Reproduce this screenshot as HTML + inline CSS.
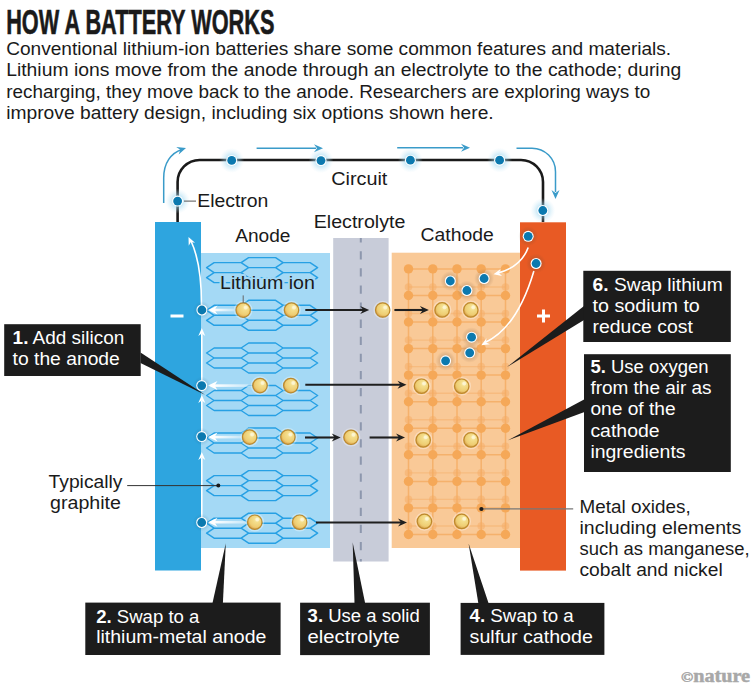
<!DOCTYPE html>
<html><head><meta charset="utf-8"><title>How a battery works</title>
<style>
html,body{margin:0;padding:0;background:#ffffff;width:751px;height:692px;overflow:hidden}
svg{display:block}
text{font-family:"Liberation Sans", sans-serif}
</style></head><body>
<svg width="751" height="692" viewBox="0 0 751 692">
<rect width="751" height="692" fill="#ffffff"/>
<text x="6.2" y="33.5" font-size="35.5" fill="#1a1a1a" font-weight="bold" text-anchor="start" textLength="268.2" lengthAdjust="spacingAndGlyphs" stroke="#1a1a1a" stroke-width="0.6">HOW A BATTERY WORKS</text>
<text x="6.2" y="54.6" font-size="17.5" fill="#1a1a1a" font-weight="normal" text-anchor="start" textLength="665.0" lengthAdjust="spacingAndGlyphs" >Conventional lithium-ion batteries share some common features and materials.</text>
<text x="6.2" y="76.3" font-size="17.5" fill="#1a1a1a" font-weight="normal" text-anchor="start" textLength="675.0" lengthAdjust="spacingAndGlyphs" >Lithium ions move from the anode through an electrolyte to the cathode; during</text>
<text x="6.2" y="97.8" font-size="17.5" fill="#1a1a1a" font-weight="normal" text-anchor="start" textLength="644.0" lengthAdjust="spacingAndGlyphs" >recharging, they move back to the anode. Researchers are exploring ways to</text>
<text x="6.2" y="119.4" font-size="17.5" fill="#1a1a1a" font-weight="normal" text-anchor="start" textLength="487.5" lengthAdjust="spacingAndGlyphs" >improve battery design, including six options shown here.</text>
<defs>
<radialGradient id="glow" cx="50%" cy="50%" r="50%">
 <stop offset="0" stop-color="#6cc3ea" stop-opacity="0.9"/>
 <stop offset="0.45" stop-color="#98d4ef" stop-opacity="0.5"/>
 <stop offset="1" stop-color="#c8e8f6" stop-opacity="0"/>
</radialGradient>
<radialGradient id="bglow" cx="50%" cy="50%" r="50%">
 <stop offset="0" stop-color="#1b5f86" stop-opacity="0.35"/>
 <stop offset="1" stop-color="#1b5f86" stop-opacity="0"/>
</radialGradient>
<radialGradient id="dglow" cx="50%" cy="50%" r="50%">
 <stop offset="0" stop-color="#6a4a30" stop-opacity="0.45"/>
 <stop offset="1" stop-color="#6a4a30" stop-opacity="0"/>
</radialGradient>
<radialGradient id="ball" cx="58%" cy="40%" r="62%" fx="66%" fy="30%">
 <stop offset="0" stop-color="#fbf0c0"/>
 <stop offset="0.3" stop-color="#f4de8c"/>
 <stop offset="0.75" stop-color="#eecd72"/>
 <stop offset="1" stop-color="#d79c48"/>
</radialGradient>
<linearGradient id="wfade" x1="0" y1="0" x2="1" y2="0">
 <stop offset="0" stop-color="#fff" stop-opacity="1"/>
 <stop offset="1" stop-color="#fff" stop-opacity="0.35"/>
</linearGradient>
<marker id="ab" viewBox="0 0 10 10" refX="9" refY="5" markerWidth="4.2" markerHeight="4.2" orient="auto" markerUnits="strokeWidth">
 <path d="M0,0 L10,5 L0,10 L3,5 Z" fill="#3a9bc9"/>
</marker>
</defs>
<path d="M177.6,222 V182 A22,22 0 0 1 199.6,160 H521 A22,22 0 0 1 543,182 V222" fill="none" stroke="#1a1a1a" stroke-width="2.6"/>
<path d="M163.7,203 V178 C163.7,163 171,153 182,149.5" fill="none" stroke="#3a9bc9" stroke-width="1.5"/>
<path d="M0,0 L-9,-4.0 L-6,0 L-9,4.0 Z" fill="#3a9bc9" transform="translate(186,148) rotate(-18)"/>
<path d="M256.6,148.2 H316" fill="none" stroke="#3a9bc9" stroke-width="1.5"/>
<path d="M0,0 L-9,-4.0 L-6,0 L-9,4.0 Z" fill="#3a9bc9" transform="translate(323,148.2) rotate(0)"/>
<path d="M397.2,147.7 H463" fill="none" stroke="#3a9bc9" stroke-width="1.5"/>
<path d="M0,0 L-9,-4.0 L-6,0 L-9,4.0 Z" fill="#3a9bc9" transform="translate(470,147.7) rotate(0)"/>
<path d="M516.5,148.2 H532 A23.5,23.5 0 0 1 555.5,171.7 V192" fill="none" stroke="#3a9bc9" stroke-width="1.5"/>
<path d="M0,0 L-9,-4.0 L-6,0 L-9,4.0 Z" fill="#3a9bc9" transform="translate(555.5,199) rotate(90)"/>
<circle cx="231.7" cy="160.4" r="12.5" fill="url(#glow)"/>
<circle cx="231.7" cy="160.4" r="5.5" fill="#ffffff"/>
<circle cx="231.7" cy="160.4" r="4.4" fill="#0b79af"/>
<circle cx="321" cy="160.6" r="12.5" fill="url(#glow)"/>
<circle cx="321" cy="160.6" r="5.5" fill="#ffffff"/>
<circle cx="321" cy="160.6" r="4.4" fill="#0b79af"/>
<circle cx="410.4" cy="160.2" r="12.5" fill="url(#glow)"/>
<circle cx="410.4" cy="160.2" r="5.5" fill="#ffffff"/>
<circle cx="410.4" cy="160.2" r="4.4" fill="#0b79af"/>
<circle cx="499.6" cy="160.2" r="12.5" fill="url(#glow)"/>
<circle cx="499.6" cy="160.2" r="5.5" fill="#ffffff"/>
<circle cx="499.6" cy="160.2" r="4.4" fill="#0b79af"/>
<circle cx="177.6" cy="201.1" r="12.5" fill="url(#glow)"/>
<circle cx="177.6" cy="201.1" r="5.5" fill="#ffffff"/>
<circle cx="177.6" cy="201.1" r="4.4" fill="#0b79af"/>
<circle cx="542.8" cy="210.5" r="12.5" fill="url(#glow)"/>
<circle cx="542.8" cy="210.5" r="5.5" fill="#ffffff"/>
<circle cx="542.8" cy="210.5" r="4.4" fill="#0b79af"/>
<line x1="184" y1="201.1" x2="196" y2="201.1" stroke="#555" stroke-width="1"/>
<text x="197.2" y="207.3" font-size="17.5" fill="#1a1a1a" font-weight="normal" text-anchor="start" textLength="71.2" lengthAdjust="spacingAndGlyphs" >Electron</text>
<text x="331.2" y="184.5" font-size="17.5" fill="#1a1a1a" font-weight="normal" text-anchor="start" textLength="56.2" lengthAdjust="spacingAndGlyphs" >Circuit</text>
<rect x="155" y="222" width="46" height="348.5" fill="#2ea5df"/>
<rect x="201" y="253" width="129" height="295" fill="#a4d9f5"/>
<rect x="333.2" y="238" width="55.4" height="323.5" fill="#c8ccd9"/>
<rect x="391.7" y="252.7" width="128.3" height="295.3" fill="#f9c997"/>
<rect x="520" y="222.3" width="46" height="348.3" fill="#e85a24"/>
<text x="235.2" y="242.3" font-size="17.5" fill="#1a1a1a" font-weight="normal" text-anchor="start" textLength="55.2" lengthAdjust="spacingAndGlyphs" >Anode</text>
<text x="313.7" y="228.4" font-size="17.5" fill="#1a1a1a" font-weight="normal" text-anchor="start" textLength="91.7" lengthAdjust="spacingAndGlyphs" >Electrolyte</text>
<text x="420.5" y="241.4" font-size="17.5" fill="#1a1a1a" font-weight="normal" text-anchor="start" textLength="73.2" lengthAdjust="spacingAndGlyphs" >Cathode</text>
<rect x="170.5" y="314.5" width="13" height="3" fill="#fff"/>
<rect x="537" y="314.5" width="13" height="3" fill="#fff"/>
<rect x="542" y="309.5" width="3" height="13" fill="#fff"/>
<line x1="360.8" y1="238" x2="360.8" y2="561.5" stroke="#8d97ad" stroke-width="2" stroke-dasharray="8.3 8.8" stroke-dashoffset="3.9"/>
<path d="M241.1,262.6 L248.6,257.6 L275.6,257.6 L283.1,262.6 L275.6,267.6 L248.6,267.6 Z M241.1,272.6 L248.6,267.6 L275.6,267.6 L283.1,272.6 L275.6,277.6 L248.6,277.6 Z M241.1,282.6 L248.6,277.6 L275.6,277.6 L283.1,282.6 L275.6,287.6 L248.6,287.6 Z M206.6,267.6 L214.1,262.6 L241.1,262.6 L248.6,267.6 L241.1,272.6 L214.1,272.6 Z M275.6,267.6 L283.1,262.6 L310.1,262.6 L317.6,267.6 L310.1,272.6 L283.1,272.6 Z M206.6,277.6 L214.1,272.6 L241.1,272.6 L248.6,277.6 L241.1,282.6 L214.1,282.6 Z M275.6,277.6 L283.1,272.6 L310.1,272.6 L317.6,277.6 L310.1,282.6 L283.1,282.6 Z M241.1,305.3 L248.6,300.3 L275.6,300.3 L283.1,305.3 L275.6,310.3 L248.6,310.3 Z M241.1,315.3 L248.6,310.3 L275.6,310.3 L283.1,315.3 L275.6,320.3 L248.6,320.3 Z M241.1,325.3 L248.6,320.3 L275.6,320.3 L283.1,325.3 L275.6,330.3 L248.6,330.3 Z M206.6,310.3 L214.1,305.3 L241.1,305.3 L248.6,310.3 L241.1,315.3 L214.1,315.3 Z M275.6,310.3 L283.1,305.3 L310.1,305.3 L317.6,310.3 L310.1,315.3 L283.1,315.3 Z M206.6,320.3 L214.1,315.3 L241.1,315.3 L248.6,320.3 L241.1,325.3 L214.1,325.3 Z M275.6,320.3 L283.1,315.3 L310.1,315.3 L317.6,320.3 L310.1,325.3 L283.1,325.3 Z M241.1,348.0 L248.6,343.0 L275.6,343.0 L283.1,348.0 L275.6,353.0 L248.6,353.0 Z M241.1,358.0 L248.6,353.0 L275.6,353.0 L283.1,358.0 L275.6,363.0 L248.6,363.0 Z M241.1,368.0 L248.6,363.0 L275.6,363.0 L283.1,368.0 L275.6,373.0 L248.6,373.0 Z M206.6,353.0 L214.1,348.0 L241.1,348.0 L248.6,353.0 L241.1,358.0 L214.1,358.0 Z M275.6,353.0 L283.1,348.0 L310.1,348.0 L317.6,353.0 L310.1,358.0 L283.1,358.0 Z M206.6,363.0 L214.1,358.0 L241.1,358.0 L248.6,363.0 L241.1,368.0 L214.1,368.0 Z M275.6,363.0 L283.1,358.0 L310.1,358.0 L317.6,363.0 L310.1,368.0 L283.1,368.0 Z M241.1,390.5 L248.6,385.5 L275.6,385.5 L283.1,390.5 L275.6,395.5 L248.6,395.5 Z M241.1,400.5 L248.6,395.5 L275.6,395.5 L283.1,400.5 L275.6,405.5 L248.6,405.5 Z M241.1,410.5 L248.6,405.5 L275.6,405.5 L283.1,410.5 L275.6,415.5 L248.6,415.5 Z M206.6,395.5 L214.1,390.5 L241.1,390.5 L248.6,395.5 L241.1,400.5 L214.1,400.5 Z M275.6,395.5 L283.1,390.5 L310.1,390.5 L317.6,395.5 L310.1,400.5 L283.1,400.5 Z M206.6,405.5 L214.1,400.5 L241.1,400.5 L248.6,405.5 L241.1,410.5 L214.1,410.5 Z M275.6,405.5 L283.1,400.5 L310.1,400.5 L317.6,405.5 L310.1,410.5 L283.1,410.5 Z M241.1,433.0 L248.6,428.0 L275.6,428.0 L283.1,433.0 L275.6,438.0 L248.6,438.0 Z M241.1,443.0 L248.6,438.0 L275.6,438.0 L283.1,443.0 L275.6,448.0 L248.6,448.0 Z M241.1,453.0 L248.6,448.0 L275.6,448.0 L283.1,453.0 L275.6,458.0 L248.6,458.0 Z M206.6,438.0 L214.1,433.0 L241.1,433.0 L248.6,438.0 L241.1,443.0 L214.1,443.0 Z M275.6,438.0 L283.1,433.0 L310.1,433.0 L317.6,438.0 L310.1,443.0 L283.1,443.0 Z M206.6,448.0 L214.1,443.0 L241.1,443.0 L248.6,448.0 L241.1,453.0 L214.1,453.0 Z M275.6,448.0 L283.1,443.0 L310.1,443.0 L317.6,448.0 L310.1,453.0 L283.1,453.0 Z M241.1,475.6 L248.6,470.6 L275.6,470.6 L283.1,475.6 L275.6,480.6 L248.6,480.6 Z M241.1,485.6 L248.6,480.6 L275.6,480.6 L283.1,485.6 L275.6,490.6 L248.6,490.6 Z M241.1,495.6 L248.6,490.6 L275.6,490.6 L283.1,495.6 L275.6,500.6 L248.6,500.6 Z M206.6,480.6 L214.1,475.6 L241.1,475.6 L248.6,480.6 L241.1,485.6 L214.1,485.6 Z M275.6,480.6 L283.1,475.6 L310.1,475.6 L317.6,480.6 L310.1,485.6 L283.1,485.6 Z M206.6,490.6 L214.1,485.6 L241.1,485.6 L248.6,490.6 L241.1,495.6 L214.1,495.6 Z M275.6,490.6 L283.1,485.6 L310.1,485.6 L317.6,490.6 L310.1,495.6 L283.1,495.6 Z M241.1,518.2 L248.6,513.2 L275.6,513.2 L283.1,518.2 L275.6,523.2 L248.6,523.2 Z M241.1,528.2 L248.6,523.2 L275.6,523.2 L283.1,528.2 L275.6,533.2 L248.6,533.2 Z M241.1,538.2 L248.6,533.2 L275.6,533.2 L283.1,538.2 L275.6,543.2 L248.6,543.2 Z M206.6,523.2 L214.1,518.2 L241.1,518.2 L248.6,523.2 L241.1,528.2 L214.1,528.2 Z M275.6,523.2 L283.1,518.2 L310.1,518.2 L317.6,523.2 L310.1,528.2 L283.1,528.2 Z M206.6,533.2 L214.1,528.2 L241.1,528.2 L248.6,533.2 L241.1,538.2 L214.1,538.2 Z M275.6,533.2 L283.1,528.2 L310.1,528.2 L317.6,533.2 L310.1,538.2 L283.1,538.2 Z" fill="none" stroke="#26a0e4" stroke-width="1.45" stroke-linejoin="round"/>
<path d="M408.5,287.0 H505.5 M408.5,313.5 H505.5 M408.5,340.1 H505.5 M408.5,366.6 H505.5 M408.5,393.2 H505.5 M408.5,419.8 H505.5 M408.5,446.3 H505.5 M408.5,472.9 H505.5 M408.5,499.4 H505.5 M408.5,526.0 H505.5" fill="none" stroke="#f4ab62" stroke-width="1.4" opacity="0.45"/>
<circle cx="408.5" cy="287.0" r="3.8" fill="#f5ad68" opacity="0.55"/>
<circle cx="432.8" cy="287.0" r="3.8" fill="#f5ad68" opacity="0.55"/>
<circle cx="457.0" cy="287.0" r="3.8" fill="#f5ad68" opacity="0.55"/>
<circle cx="481.2" cy="287.0" r="3.8" fill="#f5ad68" opacity="0.55"/>
<circle cx="505.5" cy="287.0" r="3.8" fill="#f5ad68" opacity="0.55"/>
<circle cx="408.5" cy="313.5" r="3.8" fill="#f5ad68" opacity="0.55"/>
<circle cx="432.8" cy="313.5" r="3.8" fill="#f5ad68" opacity="0.55"/>
<circle cx="457.0" cy="313.5" r="3.8" fill="#f5ad68" opacity="0.55"/>
<circle cx="481.2" cy="313.5" r="3.8" fill="#f5ad68" opacity="0.55"/>
<circle cx="505.5" cy="313.5" r="3.8" fill="#f5ad68" opacity="0.55"/>
<circle cx="408.5" cy="340.1" r="3.8" fill="#f5ad68" opacity="0.55"/>
<circle cx="432.8" cy="340.1" r="3.8" fill="#f5ad68" opacity="0.55"/>
<circle cx="457.0" cy="340.1" r="3.8" fill="#f5ad68" opacity="0.55"/>
<circle cx="481.2" cy="340.1" r="3.8" fill="#f5ad68" opacity="0.55"/>
<circle cx="505.5" cy="340.1" r="3.8" fill="#f5ad68" opacity="0.55"/>
<circle cx="408.5" cy="366.6" r="3.8" fill="#f5ad68" opacity="0.55"/>
<circle cx="432.8" cy="366.6" r="3.8" fill="#f5ad68" opacity="0.55"/>
<circle cx="457.0" cy="366.6" r="3.8" fill="#f5ad68" opacity="0.55"/>
<circle cx="481.2" cy="366.6" r="3.8" fill="#f5ad68" opacity="0.55"/>
<circle cx="505.5" cy="366.6" r="3.8" fill="#f5ad68" opacity="0.55"/>
<circle cx="408.5" cy="393.2" r="3.8" fill="#f5ad68" opacity="0.55"/>
<circle cx="432.8" cy="393.2" r="3.8" fill="#f5ad68" opacity="0.55"/>
<circle cx="457.0" cy="393.2" r="3.8" fill="#f5ad68" opacity="0.55"/>
<circle cx="481.2" cy="393.2" r="3.8" fill="#f5ad68" opacity="0.55"/>
<circle cx="505.5" cy="393.2" r="3.8" fill="#f5ad68" opacity="0.55"/>
<circle cx="408.5" cy="419.8" r="3.8" fill="#f5ad68" opacity="0.55"/>
<circle cx="432.8" cy="419.8" r="3.8" fill="#f5ad68" opacity="0.55"/>
<circle cx="457.0" cy="419.8" r="3.8" fill="#f5ad68" opacity="0.55"/>
<circle cx="481.2" cy="419.8" r="3.8" fill="#f5ad68" opacity="0.55"/>
<circle cx="505.5" cy="419.8" r="3.8" fill="#f5ad68" opacity="0.55"/>
<circle cx="408.5" cy="446.3" r="3.8" fill="#f5ad68" opacity="0.55"/>
<circle cx="432.8" cy="446.3" r="3.8" fill="#f5ad68" opacity="0.55"/>
<circle cx="457.0" cy="446.3" r="3.8" fill="#f5ad68" opacity="0.55"/>
<circle cx="481.2" cy="446.3" r="3.8" fill="#f5ad68" opacity="0.55"/>
<circle cx="505.5" cy="446.3" r="3.8" fill="#f5ad68" opacity="0.55"/>
<circle cx="408.5" cy="472.9" r="3.8" fill="#f5ad68" opacity="0.55"/>
<circle cx="432.8" cy="472.9" r="3.8" fill="#f5ad68" opacity="0.55"/>
<circle cx="457.0" cy="472.9" r="3.8" fill="#f5ad68" opacity="0.55"/>
<circle cx="481.2" cy="472.9" r="3.8" fill="#f5ad68" opacity="0.55"/>
<circle cx="505.5" cy="472.9" r="3.8" fill="#f5ad68" opacity="0.55"/>
<circle cx="408.5" cy="499.4" r="3.8" fill="#f5ad68" opacity="0.55"/>
<circle cx="432.8" cy="499.4" r="3.8" fill="#f5ad68" opacity="0.55"/>
<circle cx="457.0" cy="499.4" r="3.8" fill="#f5ad68" opacity="0.55"/>
<circle cx="481.2" cy="499.4" r="3.8" fill="#f5ad68" opacity="0.55"/>
<circle cx="505.5" cy="499.4" r="3.8" fill="#f5ad68" opacity="0.55"/>
<circle cx="408.5" cy="526.0" r="3.8" fill="#f5ad68" opacity="0.55"/>
<circle cx="432.8" cy="526.0" r="3.8" fill="#f5ad68" opacity="0.55"/>
<circle cx="457.0" cy="526.0" r="3.8" fill="#f5ad68" opacity="0.55"/>
<circle cx="481.2" cy="526.0" r="3.8" fill="#f5ad68" opacity="0.55"/>
<circle cx="505.5" cy="526.0" r="3.8" fill="#f5ad68" opacity="0.55"/>
<path d="M408.5,268.9 V534.5 M432.8,268.9 V534.5 M457.0,268.9 V534.5 M481.2,268.9 V534.5 M505.5,268.9 V534.5 M408.5,268.9 H505.5 M408.5,295.5 H505.5 M408.5,322.0 H505.5 M408.5,348.6 H505.5 M408.5,375.1 H505.5 M408.5,401.7 H505.5 M408.5,428.3 H505.5 M408.5,454.8 H505.5 M408.5,481.4 H505.5 M408.5,507.9 H505.5 M408.5,534.5 H505.5" fill="none" stroke="#f4ab62" stroke-width="1.5" opacity="0.8"/>
<circle cx="408.5" cy="268.9" r="4.7" fill="#f5a858"/>
<circle cx="432.8" cy="268.9" r="4.7" fill="#f5a858"/>
<circle cx="457.0" cy="268.9" r="4.7" fill="#f5a858"/>
<circle cx="481.2" cy="268.9" r="4.7" fill="#f5a858"/>
<circle cx="505.5" cy="268.9" r="4.7" fill="#f5a858"/>
<circle cx="408.5" cy="295.5" r="4.7" fill="#f5a858"/>
<circle cx="432.8" cy="295.5" r="4.7" fill="#f5a858"/>
<circle cx="457.0" cy="295.5" r="4.7" fill="#f5a858"/>
<circle cx="481.2" cy="295.5" r="4.7" fill="#f5a858"/>
<circle cx="505.5" cy="295.5" r="4.7" fill="#f5a858"/>
<circle cx="408.5" cy="322.0" r="4.7" fill="#f5a858"/>
<circle cx="432.8" cy="322.0" r="4.7" fill="#f5a858"/>
<circle cx="457.0" cy="322.0" r="4.7" fill="#f5a858"/>
<circle cx="481.2" cy="322.0" r="4.7" fill="#f5a858"/>
<circle cx="505.5" cy="322.0" r="4.7" fill="#f5a858"/>
<circle cx="408.5" cy="348.6" r="4.7" fill="#f5a858"/>
<circle cx="432.8" cy="348.6" r="4.7" fill="#f5a858"/>
<circle cx="457.0" cy="348.6" r="4.7" fill="#f5a858"/>
<circle cx="481.2" cy="348.6" r="4.7" fill="#f5a858"/>
<circle cx="505.5" cy="348.6" r="4.7" fill="#f5a858"/>
<circle cx="408.5" cy="375.1" r="4.7" fill="#f5a858"/>
<circle cx="432.8" cy="375.1" r="4.7" fill="#f5a858"/>
<circle cx="457.0" cy="375.1" r="4.7" fill="#f5a858"/>
<circle cx="481.2" cy="375.1" r="4.7" fill="#f5a858"/>
<circle cx="505.5" cy="375.1" r="4.7" fill="#f5a858"/>
<circle cx="408.5" cy="401.7" r="4.7" fill="#f5a858"/>
<circle cx="432.8" cy="401.7" r="4.7" fill="#f5a858"/>
<circle cx="457.0" cy="401.7" r="4.7" fill="#f5a858"/>
<circle cx="481.2" cy="401.7" r="4.7" fill="#f5a858"/>
<circle cx="505.5" cy="401.7" r="4.7" fill="#f5a858"/>
<circle cx="408.5" cy="428.3" r="4.7" fill="#f5a858"/>
<circle cx="432.8" cy="428.3" r="4.7" fill="#f5a858"/>
<circle cx="457.0" cy="428.3" r="4.7" fill="#f5a858"/>
<circle cx="481.2" cy="428.3" r="4.7" fill="#f5a858"/>
<circle cx="505.5" cy="428.3" r="4.7" fill="#f5a858"/>
<circle cx="408.5" cy="454.8" r="4.7" fill="#f5a858"/>
<circle cx="432.8" cy="454.8" r="4.7" fill="#f5a858"/>
<circle cx="457.0" cy="454.8" r="4.7" fill="#f5a858"/>
<circle cx="481.2" cy="454.8" r="4.7" fill="#f5a858"/>
<circle cx="505.5" cy="454.8" r="4.7" fill="#f5a858"/>
<circle cx="408.5" cy="481.4" r="4.7" fill="#f5a858"/>
<circle cx="432.8" cy="481.4" r="4.7" fill="#f5a858"/>
<circle cx="457.0" cy="481.4" r="4.7" fill="#f5a858"/>
<circle cx="481.2" cy="481.4" r="4.7" fill="#f5a858"/>
<circle cx="505.5" cy="481.4" r="4.7" fill="#f5a858"/>
<circle cx="408.5" cy="507.9" r="4.7" fill="#f5a858"/>
<circle cx="432.8" cy="507.9" r="4.7" fill="#f5a858"/>
<circle cx="457.0" cy="507.9" r="4.7" fill="#f5a858"/>
<circle cx="481.2" cy="507.9" r="4.7" fill="#f5a858"/>
<circle cx="505.5" cy="507.9" r="4.7" fill="#f5a858"/>
<circle cx="408.5" cy="534.5" r="4.7" fill="#f5a858"/>
<circle cx="432.8" cy="534.5" r="4.7" fill="#f5a858"/>
<circle cx="457.0" cy="534.5" r="4.7" fill="#f5a858"/>
<circle cx="481.2" cy="534.5" r="4.7" fill="#f5a858"/>
<circle cx="505.5" cy="534.5" r="4.7" fill="#f5a858"/>
<path d="M201.5,305 C201.5,280 199,258 191,241" fill="none" stroke="#ffffff" stroke-width="1.6"/>
<path d="M0,0 L-8,-3.5 L-5.5,0 L-8,3.5 Z" fill="#ffffff" transform="translate(188.5,237) rotate(-115)"/>
<line x1="201.8" y1="380" x2="201.8" y2="334" stroke="#ffffff" stroke-width="1.6"/>
<path d="M0,0 L-8,-3.5 L-5.5,0 L-8,3.5 Z" fill="#ffffff" transform="translate(201.8,328) rotate(-90)"/>
<line x1="201.8" y1="432" x2="201.8" y2="401" stroke="#ffffff" stroke-width="1.6"/>
<path d="M0,0 L-8,-3.5 L-5.5,0 L-8,3.5 Z" fill="#ffffff" transform="translate(201.8,395) rotate(-90)"/>
<line x1="201.8" y1="517" x2="201.8" y2="458" stroke="#ffffff" stroke-width="1.6"/>
<path d="M0,0 L-8,-3.5 L-5.5,0 L-8,3.5 Z" fill="#ffffff" transform="translate(201.8,452) rotate(-90)"/>
<rect x="214" y="308.7" width="20" height="2.6" fill="url(#wfade)"/>
<path d="M0,0 L-9.5,-4.5 L-6.5,0 L-9.5,4.5 Z" fill="#ffffff" transform="translate(208,310) rotate(180)"/>
<rect x="214" y="384.3" width="38" height="2.6" fill="url(#wfade)"/>
<path d="M0,0 L-9.5,-4.5 L-6.5,0 L-9.5,4.5 Z" fill="#ffffff" transform="translate(208,385.6) rotate(180)"/>
<rect x="214" y="435.8" width="28" height="2.6" fill="url(#wfade)"/>
<path d="M0,0 L-9.5,-4.5 L-6.5,0 L-9.5,4.5 Z" fill="#ffffff" transform="translate(208,437.1) rotate(180)"/>
<rect x="214" y="520.9000000000001" width="33" height="2.6" fill="url(#wfade)"/>
<path d="M0,0 L-9.5,-4.5 L-6.5,0 L-9.5,4.5 Z" fill="#ffffff" transform="translate(208,522.2) rotate(180)"/>
<path d="M528.2,247.5 Q521,267 498,273" fill="none" stroke="#ffffff" stroke-width="1.6"/>
<path d="M0,0 L-8,-3.5 L-5.5,0 L-8,3.5 Z" fill="#ffffff" transform="translate(493.5,274.2) rotate(168)"/>
<path d="M533.9,271 Q517,328 485,342.5" fill="none" stroke="#ffffff" stroke-width="1.6"/>
<path d="M0,0 L-8,-3.5 L-5.5,0 L-8,3.5 Z" fill="#ffffff" transform="translate(481.3,345.2) rotate(150)"/>
<line x1="305.3" y1="310" x2="364.2" y2="310" stroke="#1f1f1f" stroke-width="2.1"/>
<path d="M0,0 L-9,-4.0 L-6,0 L-9,4.0 Z" fill="#1f1f1f" transform="translate(369.2,310) rotate(0)"/>
<line x1="394.4" y1="310" x2="423.9" y2="310" stroke="#1f1f1f" stroke-width="2.1"/>
<path d="M0,0 L-9,-4.0 L-6,0 L-9,4.0 Z" fill="#1f1f1f" transform="translate(428.9,310) rotate(0)"/>
<line x1="305.3" y1="384.8" x2="401.5" y2="384.8" stroke="#1f1f1f" stroke-width="2.1"/>
<path d="M0,0 L-9,-4.0 L-6,0 L-9,4.0 Z" fill="#1f1f1f" transform="translate(406.5,384.8) rotate(0)"/>
<line x1="305" y1="437.5" x2="335.7" y2="437.5" stroke="#1f1f1f" stroke-width="2.1"/>
<path d="M0,0 L-9,-4.0 L-6,0 L-9,4.0 Z" fill="#1f1f1f" transform="translate(340.7,437.5) rotate(0)"/>
<line x1="369.6" y1="437.5" x2="400" y2="437.5" stroke="#1f1f1f" stroke-width="2.1"/>
<path d="M0,0 L-9,-4.0 L-6,0 L-9,4.0 Z" fill="#1f1f1f" transform="translate(405,437.5) rotate(0)"/>
<line x1="316" y1="522.5" x2="402" y2="522.5" stroke="#1f1f1f" stroke-width="2.1"/>
<path d="M0,0 L-9,-4.0 L-6,0 L-9,4.0 Z" fill="#1f1f1f" transform="translate(407,522.5) rotate(0)"/>
<circle cx="243.2" cy="310.1" r="8.7" fill="none" stroke="#ffffff" stroke-opacity="0.35" stroke-width="1.2"/>
<circle cx="243.2" cy="310.1" r="7.2" fill="url(#ball)" stroke="#bd8a2c" stroke-width="1.2"/>
<circle cx="245.79999999999998" cy="307.5" r="2" fill="#fffbe8" opacity="0.6"/>
<circle cx="291.5" cy="310.1" r="8.7" fill="none" stroke="#ffffff" stroke-opacity="0.35" stroke-width="1.2"/>
<circle cx="291.5" cy="310.1" r="7.2" fill="url(#ball)" stroke="#bd8a2c" stroke-width="1.2"/>
<circle cx="294.1" cy="307.5" r="2" fill="#fffbe8" opacity="0.6"/>
<circle cx="260" cy="385.6" r="8.7" fill="none" stroke="#ffffff" stroke-opacity="0.35" stroke-width="1.2"/>
<circle cx="260" cy="385.6" r="7.2" fill="url(#ball)" stroke="#bd8a2c" stroke-width="1.2"/>
<circle cx="262.6" cy="383.0" r="2" fill="#fffbe8" opacity="0.6"/>
<circle cx="290.8" cy="385.6" r="8.7" fill="none" stroke="#ffffff" stroke-opacity="0.35" stroke-width="1.2"/>
<circle cx="290.8" cy="385.6" r="7.2" fill="url(#ball)" stroke="#bd8a2c" stroke-width="1.2"/>
<circle cx="293.40000000000003" cy="383.0" r="2" fill="#fffbe8" opacity="0.6"/>
<circle cx="249.6" cy="437.1" r="8.7" fill="none" stroke="#ffffff" stroke-opacity="0.35" stroke-width="1.2"/>
<circle cx="249.6" cy="437.1" r="7.2" fill="url(#ball)" stroke="#bd8a2c" stroke-width="1.2"/>
<circle cx="252.2" cy="434.5" r="2" fill="#fffbe8" opacity="0.6"/>
<circle cx="287.9" cy="437.1" r="8.7" fill="none" stroke="#ffffff" stroke-opacity="0.35" stroke-width="1.2"/>
<circle cx="287.9" cy="437.1" r="7.2" fill="url(#ball)" stroke="#bd8a2c" stroke-width="1.2"/>
<circle cx="290.5" cy="434.5" r="2" fill="#fffbe8" opacity="0.6"/>
<circle cx="254.8" cy="522.2" r="8.7" fill="none" stroke="#ffffff" stroke-opacity="0.35" stroke-width="1.2"/>
<circle cx="254.8" cy="522.2" r="7.2" fill="url(#ball)" stroke="#bd8a2c" stroke-width="1.2"/>
<circle cx="257.40000000000003" cy="519.6" r="2" fill="#fffbe8" opacity="0.6"/>
<circle cx="299.6" cy="522.2" r="8.7" fill="none" stroke="#ffffff" stroke-opacity="0.35" stroke-width="1.2"/>
<circle cx="299.6" cy="522.2" r="7.2" fill="url(#ball)" stroke="#bd8a2c" stroke-width="1.2"/>
<circle cx="302.20000000000005" cy="519.6" r="2" fill="#fffbe8" opacity="0.6"/>
<circle cx="382.7" cy="310" r="8.7" fill="none" stroke="#ffffff" stroke-opacity="0.35" stroke-width="1.2"/>
<circle cx="382.7" cy="310" r="7.2" fill="url(#ball)" stroke="#bd8a2c" stroke-width="1.2"/>
<circle cx="385.3" cy="307.4" r="2" fill="#fffbe8" opacity="0.6"/>
<circle cx="351" cy="437.3" r="8.7" fill="none" stroke="#ffffff" stroke-opacity="0.35" stroke-width="1.2"/>
<circle cx="351" cy="437.3" r="7.2" fill="url(#ball)" stroke="#bd8a2c" stroke-width="1.2"/>
<circle cx="353.6" cy="434.7" r="2" fill="#fffbe8" opacity="0.6"/>
<circle cx="442.1" cy="309.9" r="8.7" fill="none" stroke="#ffffff" stroke-opacity="0.35" stroke-width="1.2"/>
<circle cx="442.1" cy="309.9" r="7.2" fill="url(#ball)" stroke="#bd8a2c" stroke-width="1.2"/>
<circle cx="444.70000000000005" cy="307.29999999999995" r="2" fill="#fffbe8" opacity="0.6"/>
<circle cx="470.8" cy="309.9" r="8.7" fill="none" stroke="#ffffff" stroke-opacity="0.35" stroke-width="1.2"/>
<circle cx="470.8" cy="309.9" r="7.2" fill="url(#ball)" stroke="#bd8a2c" stroke-width="1.2"/>
<circle cx="473.40000000000003" cy="307.29999999999995" r="2" fill="#fffbe8" opacity="0.6"/>
<circle cx="421.5" cy="386.2" r="8.7" fill="none" stroke="#ffffff" stroke-opacity="0.35" stroke-width="1.2"/>
<circle cx="421.5" cy="386.2" r="7.2" fill="url(#ball)" stroke="#bd8a2c" stroke-width="1.2"/>
<circle cx="424.1" cy="383.59999999999997" r="2" fill="#fffbe8" opacity="0.6"/>
<circle cx="461.7" cy="386.2" r="8.7" fill="none" stroke="#ffffff" stroke-opacity="0.35" stroke-width="1.2"/>
<circle cx="461.7" cy="386.2" r="7.2" fill="url(#ball)" stroke="#bd8a2c" stroke-width="1.2"/>
<circle cx="464.3" cy="383.59999999999997" r="2" fill="#fffbe8" opacity="0.6"/>
<circle cx="423.2" cy="439.9" r="8.7" fill="none" stroke="#ffffff" stroke-opacity="0.35" stroke-width="1.2"/>
<circle cx="423.2" cy="439.9" r="7.2" fill="url(#ball)" stroke="#bd8a2c" stroke-width="1.2"/>
<circle cx="425.8" cy="437.29999999999995" r="2" fill="#fffbe8" opacity="0.6"/>
<circle cx="471" cy="439.9" r="8.7" fill="none" stroke="#ffffff" stroke-opacity="0.35" stroke-width="1.2"/>
<circle cx="471" cy="439.9" r="7.2" fill="url(#ball)" stroke="#bd8a2c" stroke-width="1.2"/>
<circle cx="473.6" cy="437.29999999999995" r="2" fill="#fffbe8" opacity="0.6"/>
<circle cx="424.4" cy="521.4" r="8.7" fill="none" stroke="#ffffff" stroke-opacity="0.35" stroke-width="1.2"/>
<circle cx="424.4" cy="521.4" r="7.2" fill="url(#ball)" stroke="#bd8a2c" stroke-width="1.2"/>
<circle cx="427.0" cy="518.8" r="2" fill="#fffbe8" opacity="0.6"/>
<circle cx="461.7" cy="521.4" r="8.7" fill="none" stroke="#ffffff" stroke-opacity="0.35" stroke-width="1.2"/>
<circle cx="461.7" cy="521.4" r="7.2" fill="url(#ball)" stroke="#bd8a2c" stroke-width="1.2"/>
<circle cx="464.3" cy="518.8" r="2" fill="#fffbe8" opacity="0.6"/>
<circle cx="450.3" cy="281" r="10" fill="url(#dglow)"/>
<circle cx="450.3" cy="281" r="5.5" fill="#ffffff"/>
<circle cx="450.3" cy="281" r="4.4" fill="#0b79af"/>
<circle cx="484.1" cy="278.5" r="10" fill="url(#dglow)"/>
<circle cx="484.1" cy="278.5" r="5.5" fill="#ffffff"/>
<circle cx="484.1" cy="278.5" r="4.4" fill="#0b79af"/>
<circle cx="466.9" cy="290.5" r="10" fill="url(#dglow)"/>
<circle cx="466.9" cy="290.5" r="5.5" fill="#ffffff"/>
<circle cx="466.9" cy="290.5" r="4.4" fill="#0b79af"/>
<circle cx="471.6" cy="337.2" r="10" fill="url(#dglow)"/>
<circle cx="471.6" cy="337.2" r="5.5" fill="#ffffff"/>
<circle cx="471.6" cy="337.2" r="4.4" fill="#0b79af"/>
<circle cx="469.7" cy="352.8" r="10" fill="url(#dglow)"/>
<circle cx="469.7" cy="352.8" r="5.5" fill="#ffffff"/>
<circle cx="469.7" cy="352.8" r="4.4" fill="#0b79af"/>
<circle cx="445.6" cy="360.8" r="10" fill="url(#dglow)"/>
<circle cx="445.6" cy="360.8" r="5.5" fill="#ffffff"/>
<circle cx="445.6" cy="360.8" r="4.4" fill="#0b79af"/>
<circle cx="528.2" cy="236.3" r="10" fill="url(#dglow)"/>
<circle cx="528.2" cy="236.3" r="5.5" fill="#ffffff"/>
<circle cx="528.2" cy="236.3" r="4.4" fill="#0b79af"/>
<circle cx="536.1" cy="263.5" r="10" fill="url(#dglow)"/>
<circle cx="536.1" cy="263.5" r="5.5" fill="#ffffff"/>
<circle cx="536.1" cy="263.5" r="4.4" fill="#0b79af"/>
<circle cx="201.9" cy="310" r="9" fill="url(#bglow)"/>
<circle cx="201.9" cy="310" r="5.5" fill="#ffffff"/>
<circle cx="201.9" cy="310" r="4.4" fill="#0b79af"/>
<circle cx="201.7" cy="385.6" r="9" fill="url(#bglow)"/>
<circle cx="201.7" cy="385.6" r="5.5" fill="#ffffff"/>
<circle cx="201.7" cy="385.6" r="4.4" fill="#0b79af"/>
<circle cx="201.7" cy="436.6" r="9" fill="url(#bglow)"/>
<circle cx="201.7" cy="436.6" r="5.5" fill="#ffffff"/>
<circle cx="201.7" cy="436.6" r="4.4" fill="#0b79af"/>
<circle cx="201.7" cy="522.5" r="9" fill="url(#bglow)"/>
<circle cx="201.7" cy="522.5" r="5.5" fill="#ffffff"/>
<circle cx="201.7" cy="522.5" r="4.4" fill="#0b79af"/>
<line x1="243.2" y1="295.4" x2="243.2" y2="303" stroke="#666" stroke-width="1"/>
<text x="220.1" y="289.3" font-size="17.5" fill="#1a1a1a" font-weight="normal" text-anchor="start" textLength="94.7" lengthAdjust="spacingAndGlyphs" stroke="#a4d9f5" stroke-width="4" paint-order="stroke" stroke-linejoin="round">Lithium ion</text>
<polygon points="140.5,352.4 140.5,363 205.3,395" fill="#1c1c1c"/>
<rect x="4.2" y="324.2" width="136.5" height="51.8" fill="#1c1c1c"/>
<polygon points="212.5,603 222.9,603 225.8,543.3" fill="#1c1c1c"/>
<rect x="85.3" y="602.6" width="195.3" height="52.4" fill="#1c1c1c"/>
<polygon points="354.5,603 365.1,603 352.7,542.5" fill="#1c1c1c"/>
<rect x="300.1" y="602.7" width="129.8" height="52.4" fill="#1c1c1c"/>
<polygon points="478.3,603 488.5,603 468.6,543.4" fill="#1c1c1c"/>
<rect x="460.6" y="602.9" width="143.8" height="52" fill="#1c1c1c"/>
<polygon points="584,306 584,320 507,367" fill="#1c1c1c"/>
<rect x="583.3" y="270.8" width="147.5" height="71.2" fill="#1c1c1c"/>
<polygon points="584.5,399.3 584.5,412 507.3,440.6" fill="#1c1c1c"/>
<rect x="584" y="354.2" width="146.8" height="117.8" fill="#1c1c1c"/>
<text x="12.6" y="344.4" font-size="17.5" fill="#fff" textLength="111.7" lengthAdjust="spacingAndGlyphs"><tspan font-weight="bold">1.</tspan> Add silicon</text>
<text x="12.6" y="364.8" font-size="17.5" fill="#fff" font-weight="normal" text-anchor="start" textLength="107.2" lengthAdjust="spacingAndGlyphs" >to the anode</text>
<text x="96.2" y="622.5" font-size="17.5" fill="#fff" textLength="103.2" lengthAdjust="spacingAndGlyphs"><tspan font-weight="bold">2.</tspan> Swap to a</text>
<text x="96.2" y="643.3" font-size="17.5" fill="#fff" font-weight="normal" text-anchor="start" textLength="170.2" lengthAdjust="spacingAndGlyphs" >lithium-metal anode</text>
<text x="307.59999999999997" y="622.2" font-size="17.5" fill="#fff" textLength="112.2" lengthAdjust="spacingAndGlyphs"><tspan font-weight="bold">3.</tspan> Use a solid</text>
<text x="307.59999999999997" y="642.8" font-size="17.5" fill="#fff" font-weight="normal" text-anchor="start" textLength="92.2" lengthAdjust="spacingAndGlyphs" >electrolyte</text>
<text x="469.5" y="622.4" font-size="17.5" fill="#fff" textLength="104.2" lengthAdjust="spacingAndGlyphs"><tspan font-weight="bold">4.</tspan> Swap to a</text>
<text x="469.59999999999997" y="642.5" font-size="17.5" fill="#fff" font-weight="normal" text-anchor="start" textLength="123.2" lengthAdjust="spacingAndGlyphs" >sulfur cathode</text>
<text x="592.6" y="290.6" font-size="17.5" fill="#fff" textLength="130.2" lengthAdjust="spacingAndGlyphs"><tspan font-weight="bold">6.</tspan> Swap lithium</text>
<text x="592.6" y="311.8" font-size="17.5" fill="#fff" font-weight="normal" text-anchor="start" textLength="107.2" lengthAdjust="spacingAndGlyphs" >to sodium to</text>
<text x="592.6" y="332.8" font-size="17.5" fill="#fff" font-weight="normal" text-anchor="start" textLength="100.2" lengthAdjust="spacingAndGlyphs" >reduce cost</text>
<text x="590.4000000000001" y="372.7" font-size="17.5" fill="#fff" textLength="118.2" lengthAdjust="spacingAndGlyphs"><tspan font-weight="bold">5.</tspan> Use oxygen</text>
<text x="590.4000000000001" y="394.4" font-size="17.5" fill="#fff" font-weight="normal" text-anchor="start" textLength="121.2" lengthAdjust="spacingAndGlyphs" >from the air as</text>
<text x="590.4000000000001" y="415.4" font-size="17.5" fill="#fff" font-weight="normal" text-anchor="start" textLength="85.2" lengthAdjust="spacingAndGlyphs" >one of the</text>
<text x="590.4000000000001" y="437.0" font-size="17.5" fill="#fff" font-weight="normal" text-anchor="start" textLength="69.2" lengthAdjust="spacingAndGlyphs" >cathode</text>
<text x="590.4000000000001" y="458.3" font-size="17.5" fill="#fff" font-weight="normal" text-anchor="start" textLength="95.2" lengthAdjust="spacingAndGlyphs" >ingredients</text>
<line x1="127.2" y1="485.6" x2="218.3" y2="485.6" stroke="#333" stroke-width="1"/>
<circle cx="218.3" cy="485.6" r="2" fill="#1a1a1a"/>
<text x="85.5" y="488" font-size="17.5" fill="#1a1a1a" font-weight="normal" text-anchor="middle" textLength="73.9" lengthAdjust="spacingAndGlyphs" >Typically</text>
<text x="85.5" y="509.3" font-size="17.5" fill="#1a1a1a" font-weight="normal" text-anchor="middle" textLength="70.9" lengthAdjust="spacingAndGlyphs" >graphite</text>
<line x1="481.4" y1="508.8" x2="573.2" y2="508.8" stroke="#777" stroke-width="1.2"/>
<circle cx="481.4" cy="509" r="2.1" fill="#1a1a1a"/>
<text x="579.5" y="513.4" font-size="17.5" fill="#1a1a1a" font-weight="normal" text-anchor="start" textLength="111.2" lengthAdjust="spacingAndGlyphs" >Metal oxides,</text>
<text x="579.5" y="533.7" font-size="17.5" fill="#1a1a1a" font-weight="normal" text-anchor="start" textLength="161.7" lengthAdjust="spacingAndGlyphs" >including elements</text>
<text x="579.5" y="554.9" font-size="17.5" fill="#1a1a1a" font-weight="normal" text-anchor="start" textLength="170.2" lengthAdjust="spacingAndGlyphs" >such as manganese,</text>
<text x="579.5" y="575.7" font-size="17.5" fill="#1a1a1a" font-weight="normal" text-anchor="start" textLength="143.2" lengthAdjust="spacingAndGlyphs" >cobalt and nickel</text>
<text x="681" y="682" style="font-family:'Liberation Serif', serif" font-size="18" font-weight="bold" fill="#a8a8a8" stroke="#a8a8a8" stroke-width="0.5" textLength="69" lengthAdjust="spacingAndGlyphs"><tspan font-size="14.5">©</tspan>nature</text>
</svg>
</body></html>
